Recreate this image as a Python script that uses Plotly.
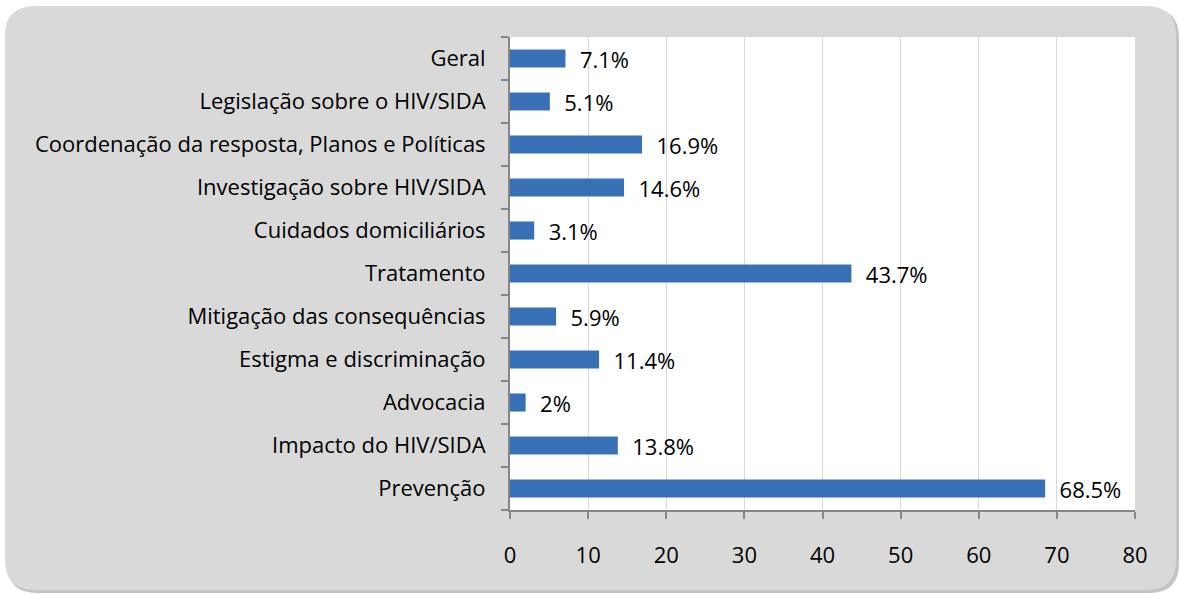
import plotly.graph_objects as go

categories = [
    "Prevenção",
    "Impacto do HIV/SIDA",
    "Advocacia",
    "Estigma e discriminação",
    "Mitigação das consequências",
    "Tratamento",
    "Cuidados domiciliários",
    "Investigação sobre HIV/SIDA",
    "Coordenação da resposta, Planos e Políticas",
    "Legislação sobre o HIV/SIDA",
    "Geral",
]
values = [68.5, 13.8, 2, 11.4, 5.9, 43.7, 3.1, 14.6, 16.9, 5.1, 7.1]
labels = ["68.5%", "13.8%", "2%", "11.4%", "5.9%", "43.7%", "3.1%", "14.6%", "16.9%", "5.1%", "7.1%"]
x_ticks = [0, 10, 20, 30, 40, 50, 60, 70, 80]

W, H = 1180, 594
ML, MR, MT, MB = 510, 45, 37, 84
pw, ph = W - ML - MR, H - MT - MB


def px(x):
    return (x - ML) / pw


def py(y):
    return (H - MB - y) / ph


def rounded_rect(x0, y0, x1, y1, r):
    # path in paper coordinates built from pixel corners
    return (
        f"M {px(x0 + r)} {py(y0)} L {px(x1 - r)} {py(y0)} "
        f"Q {px(x1)} {py(y0)} {px(x1)} {py(y0 + r)} "
        f"L {px(x1)} {py(y1 - r)} Q {px(x1)} {py(y1)} {px(x1 - r)} {py(y1)} "
        f"L {px(x0 + r)} {py(y1)} Q {px(x0)} {py(y1)} {px(x0)} {py(y1 - r)} "
        f"L {px(x0)} {py(y0 + r)} Q {px(x0)} {py(y0)} {px(x0 + r)} {py(y0)} Z"
    )


font = "Open Sans, Noto Sans, sans-serif"

fig = go.Figure(
    go.Bar(
        x=values,
        y=categories,
        orientation="h",
        width=0.42,
        marker=dict(color="#3870b5", line=dict(width=0)),
        text=labels,
        texttemplate="\u00a0\u00a0%{text}",
        textposition="outside",
        constraintext="none",
        textfont=dict(color="#000000", size=22, family=font),
        cliponaxis=False,
        hoverinfo="skip",
    )
)

fig.update_layout(
    width=W,
    height=H,
    margin=dict(l=ML, r=MR, t=MT, b=MB),
    paper_bgcolor="white",
    plot_bgcolor="white",
    showlegend=False,
    font=dict(family=font, size=22, color="#000000"),
    shapes=[
        dict(type="path", xref="paper", yref="paper", layer="below",
             path=rounded_rect(7, 8, 1179, 593, 30),
             fillcolor="#c4c4c4", line=dict(width=0)),
        dict(type="path", xref="paper", yref="paper", layer="below",
             path=rounded_rect(5, 6, 1176, 590, 30),
             fillcolor="#d9d9d9", line=dict(width=0)),
        dict(type="rect", xref="paper", yref="paper", layer="below",
             x0=0, x1=1, y0=0, y1=1, fillcolor="white", line=dict(width=0)),
    ],
    xaxis=dict(
        range=[0, 80],
        tickvals=x_ticks,
        showgrid=True,
        gridcolor="#d9d9d9",
        gridwidth=1,
        showline=True,
        linecolor="#868686",
        linewidth=2,
        ticks="outside",
        ticklen=7,
        tickwidth=2,
        tickcolor="#868686",
        ticklabelstandoff=18,
        tickfont=dict(size=22),
        zeroline=False,
        fixedrange=True,
    ),
    yaxis=dict(
        type="category",
        categoryorder="array",
        categoryarray=categories,
        showline=True,
        linecolor="#868686",
        linewidth=2,
        ticks="outside",
        tickson="boundaries",
        ticklen=7,
        tickwidth=2,
        tickcolor="#868686",
        ticklabelstandoff=18,
        tickfont=dict(size=22),
        showgrid=False,
        fixedrange=True,
    ),
)

fig.write_html(
    "out.html",
    config={"displayModeBar": False},
    post_script="document.body.style.margin='0';",
)
